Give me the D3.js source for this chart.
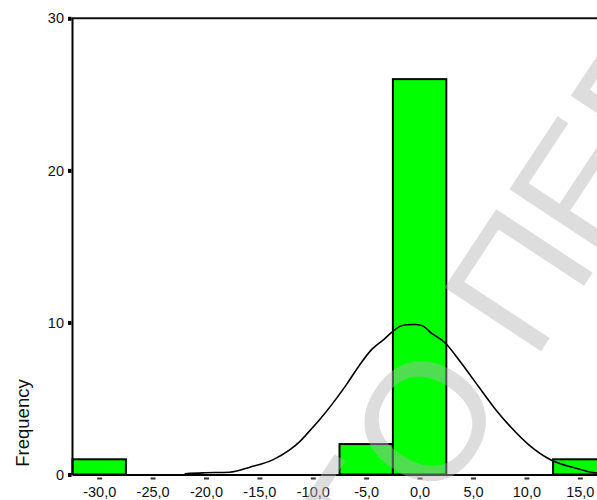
<!DOCTYPE html>
<html>
<head>
<meta charset="utf-8">
<script src="https://cdn.jsdelivr.net/npm/d3@7"></script>
<style>
  html, body { margin: 0; padding: 0; background: #fff; }
  svg { display: block; }
  text { font-family: "Liberation Sans", Arial, sans-serif; }
</style>
</head>
<body>
<svg id="chart" width="597" height="500"></svg>
<script>
// ---- data ----
const binCenters = [-30, -25, -20, -15, -10, -5, 0, 5, 10, 15];
const binCounts  = [1, 0, 0, 0, 0, 2, 26, 0, 0, 1];
const binWidth = 5;
const xTickValues = [-30, -25, -20, -15, -10, -5, 0, 5, 10, 15];
const yTickValues = [0, 10, 20, 30];
const yLabel = "Frequency";
// normal curve
const curveX = [-22, -20.3, -17.8, -15.9, -13.7, -12.2, -11.2, -10.6, -9.35, -8.1, -6.85, -5.6, -4.5, -3.4, -2.5, -1.85, -1.2, -0.5, 0.2, 1.1, 2.4, 3.9, 5.5, 7.0, 8.6, 10.2, 12.35, 14.5, 16.4, 17.5];
const curveY = [0.05, 0.11, 0.15, 0.48, 0.98, 1.6, 2.18, 2.63, 3.61, 4.71, 5.91, 7.22, 8.21, 8.86, 9.41, 9.74, 9.85, 9.86, 9.80, 9.30, 8.65, 7.33, 5.80, 4.38, 3.07, 1.97, 0.94, 0.44, 0.11, 0.06];
const watermarkLetters = ["Т", "О", "П", "Е", "Р"];
const watermarkOffsets = [-125, 0, 169, 282, 394];

// ---- scales ----
const svg = d3.select("#chart");
const x = d3.scaleLinear().domain([-32.5, 17.5]).range([72.5, 606.5]);
const y = d3.scaleLinear().domain([0, 30]).range([474.5, 18.3]);

const fmt = v => d3.format(".1f")(v).replace(".", ",").replace("−", "-");

// top frame line
svg.append("line")
  .attr("x1", x.range()[0] - 1).attr("x2", 600)
  .attr("y1", y(30)).attr("y2", y(30))
  .attr("stroke", "#111").attr("stroke-width", 2);

// bars
const bins = binCenters.map((c, i) => ({c, n: binCounts[i]})).filter(d => d.n > 0);
svg.append("g").selectAll("rect").data(bins).join("rect")
  .attr("x", d => x(d.c - binWidth / 2))
  .attr("width", d => x(d.c + binWidth / 2) - x(d.c - binWidth / 2))
  .attr("y", d => y(d.n))
  .attr("height", d => y(0) - y(d.n))
  .attr("fill", "#00ff00")
  .attr("stroke", "#000")
  .attr("stroke-width", 2);

// normal curve
const pts = curveX.map((v, i) => [v, curveY[i]]);
svg.append("path")
  .datum(pts)
  .attr("d", d3.line().x(d => x(d[0])).y(d => y(d[1])).curve(d3.curveMonotoneX))
  .attr("fill", "none")
  .attr("stroke", "#000")
  .attr("stroke-width", 1.6);

// x axis
const xAxis = svg.append("g")
  .attr("transform", `translate(0,${y(0)})`)
  .call(d3.axisBottom(x).tickValues(xTickValues).tickFormat(fmt)
        .tickSizeInner(0).tickSizeOuter(0).tickPadding(12));
xAxis.select(".domain").attr("stroke", "#000").attr("stroke-width", 2);
xAxis.selectAll(".tick line").remove();
xAxis.selectAll(".tick").append("rect")
  .attr("x", -2.5).attr("y", 3).attr("width", 5).attr("height", 2).attr("fill", "#333");
xAxis.selectAll(".tick text")
  .attr("font-size", "14.5px").attr("fill", "#111")
  .attr("font-family", "Liberation Sans, Arial, sans-serif");

// y axis
const yAxis = svg.append("g")
  .attr("transform", `translate(${x.range()[0] - 0.5},0)`)
  .call(d3.axisLeft(y).tickValues(yTickValues).tickFormat(d3.format("d"))
        .tickSizeInner(0).tickSizeOuter(0).tickPadding(8));
yAxis.select(".domain").attr("stroke", "#000").attr("stroke-width", 2);
yAxis.selectAll(".tick line").remove();
yAxis.selectAll(".tick").append("rect")
  .attr("x", -4).attr("y", -2).attr("width", 3.5).attr("height", 4).attr("fill", "#000");
yAxis.selectAll(".tick text")
  .attr("font-size", "14.5px").attr("fill", "#111")
  .attr("font-family", "Liberation Sans, Arial, sans-serif");

// y label
svg.append("text")
  .attr("transform", "translate(29,423) rotate(-90)")
  .attr("text-anchor", "middle")
  .attr("font-size", "18.5px")
  .attr("fill", "#111")
  .text(yLabel);

// watermark
const wm = svg.append("g").attr("transform", "translate(473.8,453.1) rotate(-56.6)");
wm.selectAll("text").data(watermarkLetters).join("text")
  .attr("x", (d, i) => watermarkOffsets[i])
  .attr("y", 0)
  .attr("text-anchor", "middle")
  .attr("font-size", "168px")
  .attr("fill", "#b4b4b4")
  .attr("fill-opacity", 0.45)
  .text(d => d);
</script>
</body>
</html>
